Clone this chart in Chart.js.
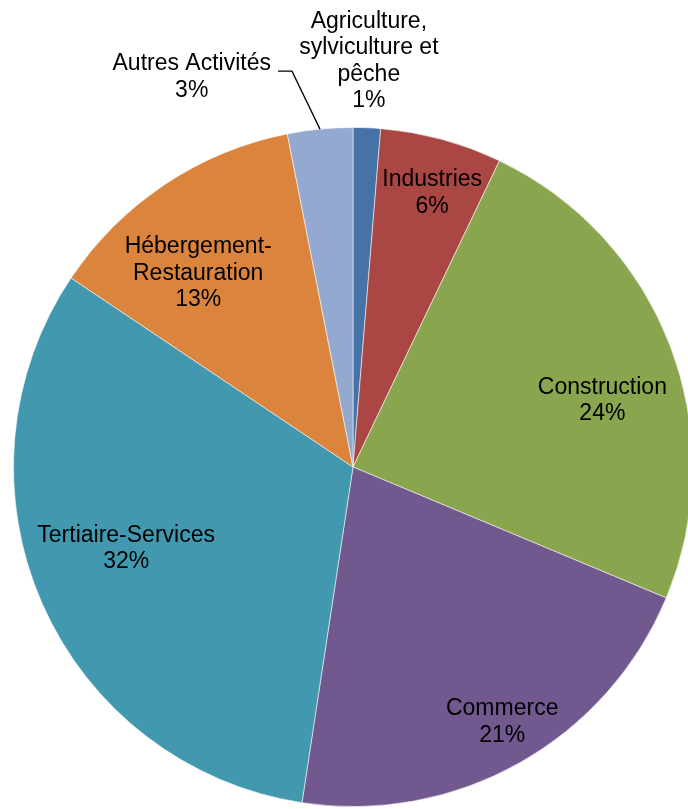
<!DOCTYPE html>
<html lang="fr">
<head>
<meta charset="utf-8">
<script src="https://cdn.jsdelivr.net/npm/chart.js"></script>
<style>
  html, body { margin: 0; padding: 0; background: #fff; overflow: hidden; }
  #wrap { width: 688px; height: 809px; overflow: hidden; }
</style>
</head>
<body>
<div id="wrap"><canvas id="myChart" width="700" height="809"></canvas></div>
<script>
    // categories (label lines) and shares in %
    const categories = [
        ['Agriculture,', 'sylviculture et', 'pêche'],
        ['Industries'],
        ['Construction'],
        ['Commerce'],
        ['Tertiaire-Services'],
        ['Hébergement-', 'Restauration'],
        ['Autres Activités']
    ];
    const shares = [1.3, 5.8, 24.2, 21.1, 32.0, 12.5, 3.1];
    const pctLabels = ['1%', '6%', '24%', '21%', '32%', '13%', '3%'];

    const colors = ['#4572A7', '#AA4643', '#89A54E', '#71588F', '#4198AF', '#DB843D', '#93A9CF'];

    // label placement: 'in' = radial fraction + angle tweak (deg), others are outside
    const placement = [
        {mode: 'top'},
        {mode: 'in', f: 0.84, a: 1},
        {mode: 'in', f: 0.76, a: 6},
        {mode: 'in', f: 0.87, a: -1},
        {mode: 'in', f: 0.71, a: 4},
        {mode: 'in', f: 0.73, a: -5},
        {mode: 'leader'}
    ];

    const FONT = '23px "Liberation Sans", Arial, sans-serif';
    const LH = 26.5;

    const labelPlugin = {
        id: 'pieLabels',
        afterDatasetsDraw(chart) {
            const ctx = chart.ctx;
            const meta = chart.getDatasetMeta(0);
            ctx.save();
            ctx.font = FONT;
            ctx.fillStyle = '#000';
            ctx.textAlign = 'center';
            ctx.textBaseline = 'middle';
            meta.data.forEach((arc, i) => {
                const p = arc.getProps(['x', 'y', 'startAngle', 'endAngle', 'outerRadius'], true);
                const mid = (p.startAngle + p.endAngle) / 2;
                const lines = categories[i].concat([pctLabels[i]]);
                const pl = placement[i];
                if (pl.mode === 'in') {
                    const ang = mid + pl.a * Math.PI / 180;
                    const cx = p.x + Math.cos(ang) * p.outerRadius * pl.f;
                    const cy = p.y + Math.sin(ang) * p.outerRadius * pl.f;
                    const y0 = cy - (lines.length - 1) * LH / 2;
                    lines.forEach((t, k) => ctx.fillText(t, cx, y0 + k * LH));
                } else if (pl.mode === 'top') {
                    const ax = p.x + Math.cos(mid) * p.outerRadius;
                    const ay = p.y + Math.sin(mid) * p.outerRadius;
                    const yLast = ay - 27;
                    lines.forEach((t, k) => ctx.fillText(t, ax + 2, yLast - (lines.length - 1 - k) * LH));
                } else {
                    const ax = p.x + Math.cos(mid) * p.outerRadius;
                    const ay = p.y + Math.sin(mid) * p.outerRadius;
                    const ex = ax - 28, ey = ay - 58;
                    const hx = ex - 14;
                    ctx.strokeStyle = '#000';
                    ctx.lineWidth = 1.3;
                    ctx.beginPath();
                    ctx.moveTo(ax, ay);
                    ctx.lineTo(ex, ey);
                    ctx.lineTo(hx, ey);
                    ctx.stroke();
                    const w = Math.max(...lines.map(t => ctx.measureText(t).width));
                    const cx = hx - 7 - w / 2;
                    const y0 = ey - 7;
                    lines.forEach((t, k) => ctx.fillText(t, cx, y0 + k * LH));
                }
            });
            ctx.restore();
        }
    };

    const ctx = document.getElementById('myChart');
    const myChart = new Chart(ctx, {
        type: 'pie',
        data: {
            labels: categories.map(c => c.join(' ')),
            datasets: [{
                data: shares,
                backgroundColor: colors,
                borderColor: 'rgba(255,255,255,0.55)',
                borderWidth: 1
            }]
        },
        options: {
            responsive: false,
            animation: false,
            layout: { padding: { left: 13, right: 7, top: 127, bottom: 2 } },
            plugins: {
                legend: { display: false },
                tooltip: { enabled: false }
            }
        },
        plugins: [labelPlugin]
    });
</script>
</body>
</html>
